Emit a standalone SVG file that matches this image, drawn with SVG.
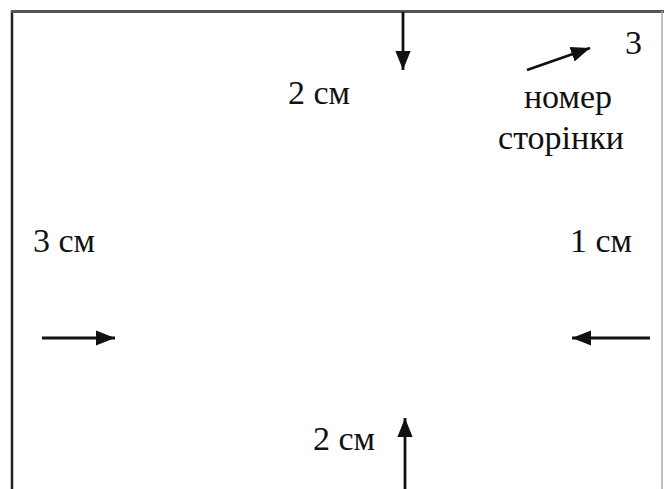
<svg xmlns="http://www.w3.org/2000/svg" width="664" height="489" viewBox="0 0 664 489">
<defs>
<style>
.t{font-family:"Liberation Serif","Times New Roman",serif;font-size:34px;fill:#111}
.a{stroke:#111;stroke-width:2.8;fill:none}
</style>
<marker id="ahb" viewBox="0 0 10 10" refX="10" refY="5" markerWidth="19" markerHeight="19" orient="auto" markerUnits="userSpaceOnUse">
<path d="M0,1 L10,5 L0,9 Z" fill="#111"/>
</marker>
</defs>
<rect width="664" height="489" fill="#fff"/>
<g id="frame">
<line x1="12" y1="11" x2="12" y2="489" stroke="#222" stroke-width="2.5"/>
<line x1="11" y1="11.5" x2="664" y2="11.5" stroke="#555" stroke-width="3"/>
<line x1="662" y1="11" x2="662" y2="489" stroke="#aaa" stroke-width="1.5"/>
</g>
<g id="connectors">
<line class="a" x1="403" y1="12" x2="403" y2="70" marker-end="url(#ahb)"/>
<line class="a" x1="405" y1="489" x2="405" y2="418" marker-end="url(#ahb)"/>
<line class="a" x1="42" y1="338" x2="115" y2="338" marker-end="url(#ahb)"/>
<line class="a" x1="650" y1="338" x2="572" y2="338" marker-end="url(#ahb)"/>
<line class="a" x1="527" y1="70" x2="590" y2="48" marker-end="url(#ahb)"/>
</g>
<g id="top-margin"><text class="t" x="288" y="104">2 см</text></g>
<g id="bottom-margin"><text class="t" x="313" y="450">2 см</text></g>
<g id="left-margin"><text class="t" x="33" y="252">3 см</text></g>
<g id="right-margin"><text class="t" x="570" y="252">1 см</text></g>
<g id="page-number">
<text class="t" x="625" y="54">3</text>
<text class="t" x="568" y="108" text-anchor="middle">номер</text>
<text class="t" x="561" y="149" text-anchor="middle">сторінки</text>
</g>
</svg>
